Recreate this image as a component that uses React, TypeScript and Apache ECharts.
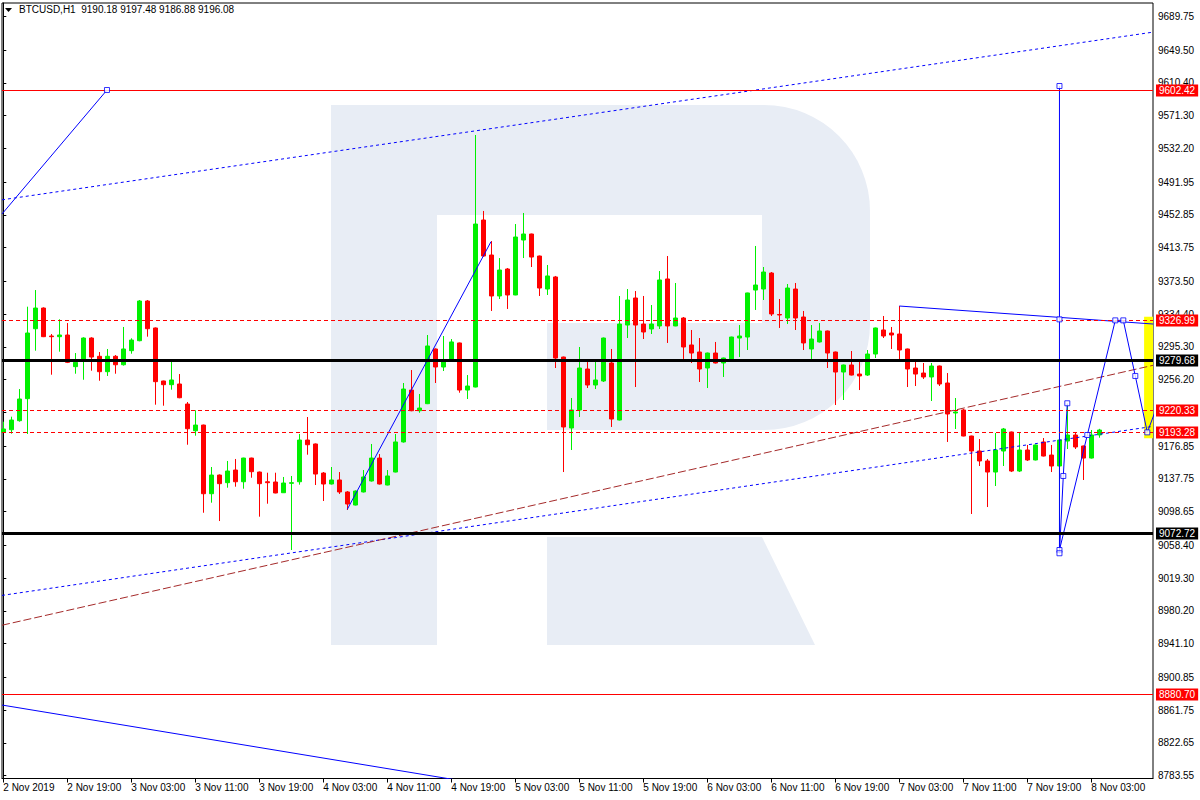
import React, { useEffect, useRef } from "react";
import * as echarts from "echarts";

const FONT = '"Liberation Sans", Arial, sans-serif';

// ---- Hourly bars, 2 Nov 2019 11:00 .. 8 Nov 2019 04:00 (bar index = hour) ----
const opens = [
  9193.3, 9196.4, 9207.2, 9233.5, 9317.0, 9341.7, 9308.3, 9307.5, 9309.5, 9271.7,
  9280.9, 9305.9, 9284.1, 9265.7, 9284.1, 9274.0, 9290.8, 9302.7, 9350.1, 9317.9,
  9254.6, 9250.2, 9251.0, 9227.1, 9195.2, 9202.0, 9120.0, 9142.3, 9133.2, 9148.3,
  9134.3, 9162.6, 9145.9, 9134.3, 9134.0, 9121.2, 9132.4, 9134.3, 9184.1, 9179.4,
  9144.7, 9131.6, 9136.4, 9122.1, 9106.5, 9122.1, 9135.2, 9162.6, 9130.4, 9145.9,
  9181.8, 9243.8, 9219.1, 9227.5, 9292.8, 9271.3, 9280.9, 9300.0, 9243.8, 9247.4,
  9446.8, 9405.0, 9356.1, 9388.3, 9357.3, 9422.9, 9430.1, 9403.8, 9364.4, 9378.8,
  9283.2, 9198.5, 9220.0, 9268.9, 9249.8, 9254.6, 9276.1, 9208.0, 9321.4, 9353.7,
  9322.6, 9316.7, 9320.3, 9376.4, 9320.3, 9329.8, 9297.6, 9289.2, 9270.1, 9288.0,
  9276.1, 9280.9, 9305.9, 9307.1, 9363.2, 9364.4, 9383.5, 9334.0, 9329.8, 9364.4,
  9331.0, 9292.8, 9301.2, 9314.3, 9289.2, 9265.3, 9273.7, 9262.9, 9261.7, 9286.8,
  9315.5, 9311.9, 9310.7, 9292.8, 9270.1, 9264.1, 9259.4, 9272.5, 9252.2, 9216.4,
  9220.0, 9188.9, 9171.0, 9159.1, 9145.9, 9171.0, 9193.7, 9147.1, 9172.2, 9160.3,
  9181.8, 9166.2, 9153.1, 9182.9, 9190.1, 9177.0, 9162.6, 9190.18,
];
const closes = [
  9197.3, 9208.0, 9233.1, 9311.9, 9341.7, 9307.5, 9307.5, 9309.5, 9276.9, 9276.9,
  9305.9, 9283.2, 9265.7, 9284.1, 9274.0, 9292.8, 9303.5, 9350.1, 9317.0, 9253.8,
  9250.2, 9255.8, 9234.6, 9197.6, 9202.0, 9120.0, 9142.3, 9132.0, 9147.1, 9134.3,
  9162.6, 9146.3, 9132.0, 9133.2, 9120.9, 9132.8, 9133.2, 9184.1, 9178.5, 9143.5,
  9131.6, 9136.4, 9122.1, 9107.7, 9123.2, 9140.0, 9162.6, 9131.6, 9141.2, 9181.8,
  9245.0, 9219.1, 9222.3, 9296.4, 9271.3, 9277.3, 9301.2, 9243.8, 9248.6, 9442.0,
  9403.8, 9356.1, 9387.1, 9357.3, 9426.5, 9430.1, 9402.6, 9365.6, 9380.0, 9282.0,
  9199.7, 9220.0, 9270.1, 9249.8, 9255.8, 9305.9, 9209.2, 9322.6, 9351.3, 9321.4,
  9313.1, 9322.6, 9375.2, 9320.3, 9329.8, 9295.2, 9288.0, 9268.9, 9288.0, 9276.1,
  9282.0, 9307.1, 9308.3, 9359.7, 9369.2, 9384.7, 9334.6, 9333.4, 9365.6, 9329.8,
  9300.0, 9304.7, 9314.3, 9288.0, 9265.3, 9273.7, 9261.7, 9260.6, 9286.8, 9317.9,
  9308.3, 9309.5, 9291.6, 9268.9, 9262.9, 9259.4, 9272.5, 9251.0, 9215.2, 9217.6,
  9188.9, 9171.0, 9159.1, 9145.9, 9172.2, 9197.3, 9147.1, 9172.2, 9160.3, 9178.2,
  9165.0, 9153.1, 9184.1, 9190.1, 9175.8, 9162.6, 9190.1, 9196.08,
];
const lows = [
  9192.5, 9191.7, 9206.0, 9191.3, 9290.8, 9307.0, 9262.1, 9289.6, 9276.0, 9263.3,
  9256.1, 9266.9, 9254.9, 9260.6, 9263.3, 9273.0, 9287.2, 9302.0, 9307.5, 9226.3,
  9225.1, 9244.2, 9234.0, 9178.5, 9189.3, 9097.3, 9109.3, 9087.4, 9127.2, 9128.4,
  9126.0, 9139.1, 9092.6, 9108.1, 9120.5, 9121.0, 9052.8, 9130.8, 9166.6, 9130.4,
  9111.3, 9131.0, 9119.7, 9100.6, 9106.0, 9121.5, 9134.5, 9131.0, 9130.0, 9145.5,
  9181.0, 9218.5, 9216.7, 9227.0, 9252.2, 9266.5, 9280.0, 9240.6, 9233.1, 9247.0,
  9403.0, 9338.2, 9352.5, 9340.6, 9357.0, 9401.4, 9390.7, 9356.1, 9357.3, 9270.1,
  9145.9, 9172.2, 9211.6, 9246.2, 9245.0, 9253.4, 9199.7, 9207.5, 9305.9, 9247.4,
  9304.7, 9310.7, 9316.7, 9300.0, 9320.0, 9280.9, 9276.1, 9253.4, 9246.2, 9275.5,
  9259.4, 9280.5, 9283.2, 9291.6, 9339.4, 9351.3, 9332.2, 9317.9, 9322.6, 9315.5,
  9291.6, 9280.9, 9300.5, 9270.1, 9225.9, 9231.9, 9261.2, 9243.8, 9260.6, 9282.0,
  9305.9, 9292.8, 9279.7, 9247.4, 9248.6, 9257.0, 9230.7, 9248.6, 9181.8, 9197.3,
  9188.5, 9095.8, 9153.1, 9104.1, 9129.2, 9153.1, 9145.9, 9145.9, 9159.1, 9159.8,
  9164.5, 9145.9, 9052.8, 9173.4, 9173.4, 9136.4, 9162.0, 9186.88,
];
const highs = [
  9206.0, 9212.0, 9245.0, 9343.3, 9363.2, 9342.5, 9310.7, 9328.3, 9323.8, 9288.0,
  9306.8, 9306.8, 9289.2, 9292.8, 9285.6, 9319.1, 9305.6, 9351.3, 9351.3, 9318.5,
  9255.0, 9277.6, 9262.9, 9229.5, 9219.6, 9202.5, 9151.9, 9143.0, 9159.1, 9161.5,
  9163.0, 9163.0, 9146.5, 9145.1, 9145.1, 9140.0, 9141.2, 9191.3, 9211.6, 9180.0,
  9145.9, 9151.9, 9145.9, 9123.2, 9124.0, 9148.3, 9179.4, 9167.4, 9148.3, 9191.3,
  9252.2, 9267.7, 9239.1, 9309.5, 9293.5, 9308.3, 9304.7, 9300.5, 9261.7, 9548.3,
  9457.6, 9421.7, 9401.4, 9389.5, 9442.0, 9455.2, 9430.5, 9404.3, 9393.1, 9380.0,
  9283.7, 9234.3, 9295.2, 9277.3, 9277.3, 9306.5, 9292.8, 9356.1, 9364.4, 9362.0,
  9356.1, 9345.3, 9385.9, 9403.8, 9371.6, 9331.0, 9315.5, 9305.9, 9288.5, 9301.2,
  9282.5, 9307.5, 9321.4, 9360.0, 9415.8, 9390.7, 9384.7, 9352.5, 9370.4, 9371.6,
  9338.2, 9321.4, 9323.8, 9314.8, 9289.7, 9274.2, 9290.4, 9277.3, 9291.6, 9318.4,
  9332.2, 9319.1, 9344.1, 9293.3, 9278.5, 9276.1, 9276.1, 9273.0, 9264.1, 9234.3,
  9221.2, 9189.3, 9185.3, 9161.5, 9192.5, 9198.5, 9194.2, 9192.5, 9178.2, 9178.7,
  9186.5, 9178.2, 9196.1, 9227.1, 9193.7, 9177.5, 9196.1, 9197.48,
];

// ---- Axis labels ----
const timeLabels = [
  "2 Nov 2019", "2 Nov 19:00", "3 Nov 03:00", "3 Nov 11:00", "3 Nov 19:00",
  "4 Nov 03:00", "4 Nov 11:00", "4 Nov 19:00", "5 Nov 03:00", "5 Nov 11:00",
  "5 Nov 19:00", "6 Nov 03:00", "6 Nov 11:00", "6 Nov 19:00", "7 Nov 03:00",
  "7 Nov 11:00", "7 Nov 19:00", "8 Nov 03:00",
];
const timeLabelBars = [0, 8, 16, 24, 32, 40, 48, 56, 64, 72, 80, 88, 96, 104, 112, 120, 128, 136];
const priceTicks = [
  9689.75, 9649.5, 9610.4, 9571.3, 9532.2, 9491.95, 9452.85, 9413.75, 9373.5, 9334.4,
  9295.3, 9256.2, 9217.1, 9176.85, 9137.75, 9098.65, 9058.4, 9019.3, 8980.2, 8941.1,
  8900.85, 8861.75, 8822.65, 8783.55,
];

// ---- Price levels ----
const redSolidLevels = [9602.42, 8880.7];
const redDashedLevels = [9326.99, 9220.33, 9193.28];
const blackLevels = [9279.68, 9072.72];

// ---- Drawn objects, as [bar index, price] ----
const channelTop = [[-0.1625, 9470.9], [143.7125, 9671.1]];
const channelBottom = [[-0.1625, 8998.6], [143.7125, 9200.4]];
const brownTrend = [[-0.1625, 8963.0], [143.7125, 9273.3]];
const lowerLeftLine = [[-0.1625, 8867.7], [57.1, 8777.5]];
const upperLeftLine = [[-0.1625, 9454.0], [12.96, 9602.0]];
const risingLine = [[43.0, 9101.4], [60.96, 9420.9]];
const upperRightLine = [[112, 9344.1], [143.75, 9322.6]];
const verticalLine = [[132.02, 9606.8], [132.02, 9048.9]];
const zigzagShort = [[132.02, 9048.9], [132.5, 9141.2], [133, 9228.0]];
const zigzagLong = [
  [132.02, 9052.8], [135.5, 9190.1], [139, 9326.99], [140, 9326.99],
  [141.5, 9260.6], [143, 9193.28], [143.96, 9217.6],
];
const anchorPoints = [
  [12.96, 9602.0], [132.02, 9606.8], [132.02, 9328.2], [132.02, 9052.8], [132.02, 9048.9],
  [132.5, 9141.2], [133, 9228.0], [135.5, 9190.1], [139, 9326.99], [140, 9326.99],
  [141.5, 9260.6], [143, 9193.28],
];
const highlightBox = [[142.6, 9331.4], [143.75, 9186.2]];

const header = "BTCUSD,H1\u00a0\u00a09190.18 9197.48 9186.88 9196.08";

const X_MIN = -0.1625;
const X_MAX = 143.7125;
const BLUE = "#0000ff";
const RED = "#ff0000";
const GREEN = "#00f000";
const LOGO = "#e8edf5";

type Snap = (v: number) => number;

const levels = [
  ...redSolidLevels.map((v) => ({ v, color: RED, type: "solid", width: 1 })),
  ...redDashedLevels.map((v) => ({ v, color: RED, type: [4, 3], width: 1 })),
  ...blackLevels.map((v) => ({ v, color: "#000000", type: "solid", width: 3 })),
];

function levelSeries(snap: Snap) {
  return levels.map((l, i) => {
    const y = snap(l.v);
    return {
      id: "level" + i,
      type: "line",
      data: [[X_MIN, y], [X_MAX, y]],
      showSymbol: false,
      silent: true,
      clip: false,
      z: 5,
      lineStyle: { color: l.color, type: l.type, width: l.width, opacity: 1 },
      endLabel: {
        show: true,
        distance: 3,
        formatter: () => l.v.toFixed(2),
        color: "#ffffff",
        backgroundColor: l.color,
        padding: [1, 3, 0, 3],
        fontSize: 10,
        lineHeight: 11,
        fontFamily: FONT,
      },
    };
  });
}

function lineSeries(data: number[][], color: string, type: any, width = 1) {
  return {
    type: "line",
    data,
    showSymbol: false,
    silent: true,
    z: 3,
    lineStyle: { color, type, width },
  };
}

export default function App() {
  const ref = useRef<HTMLDivElement>(null);

  useEffect(() => {
    if (!ref.current) return;
    const chart = echarts.init(ref.current, null, { renderer: "svg" });

    const candles = opens.map((o, i) => [i, o, closes[i], lows[i], highs[i]]);

    const option: any = {
      animation: false,
      backgroundColor: "#ffffff",
      grid: {
        left: 2,
        right: 47,
        top: 3,
        bottom: 21.5,
        show: true,
        borderColor: "#000000",
        borderWidth: 1,
      },
      xAxis: {
        type: "value",
        min: X_MIN,
        max: X_MAX,
        axisLine: { show: true, lineStyle: { color: "#000000", width: 1 } },
        axisTick: {
          show: true,
          customValues: timeLabelBars,
          length: 4,
          lineStyle: { color: "#000000" },
        },
        axisLabel: {
          customValues: timeLabelBars,
          formatter: (v: number) => timeLabels[timeLabelBars.indexOf(Math.round(v))] ?? "",
          align: "left",
          margin: 4,
          fontSize: 10,
          color: "#000000",
          fontFamily: FONT,
        },
        splitLine: { show: false },
      },
      yAxis: {
        type: "value",
        position: "right",
        min: 8780.0,
        max: 9705.9,
        axisLine: { show: true, lineStyle: { color: "#000000", width: 1 } },
        axisTick: {
          show: true,
          customValues: priceTicks,
          length: 3,
          lineStyle: { color: "#000000" },
        },
        axisLabel: {
          customValues: priceTicks,
          formatter: (v: number) => v.toFixed(2),
          margin: 5,
          fontSize: 10,
          color: "#000000",
          fontFamily: FONT,
        },
        splitLine: { show: false },
      },
      graphic: [
        // watermark "R"
        { type: "rect", z: 0, silent: true, shape: { x: 331, y: 105, width: 539, height: 325, r: [0, 106, 106, 0] }, style: { fill: LOGO } },
        { type: "rect", z: 0, silent: true, shape: { x: 331, y: 105, width: 106, height: 540 }, style: { fill: LOGO } },
        { type: "rect", z: 0, silent: true, shape: { x: 437, y: 215, width: 325, height: 108 }, style: { fill: "#ffffff" } },
        { type: "rect", z: 0, silent: true, shape: { x: 437, y: 323, width: 110, height: 107 }, style: { fill: "#ffffff" } },
        { type: "polygon", z: 0, silent: true, shape: { points: [[547, 537], [762, 537], [815, 645], [547, 645]] }, style: { fill: LOGO } },
        // header
        { type: "polygon", z: 10, silent: true, shape: { points: [[5, 8], [12, 8], [8.5, 12]] }, style: { fill: "#000000" } },
        {
          type: "text",
          z: 10,
          silent: true,
          left: 19,
          top: 4,
          style: { text: header, fill: "#000000", font: `10px ${FONT}` },
        },
      ],
      series: [
        {
          id: "candles",
          type: "candlestick",
          data: candles,
          barWidth: 4,
          z: 2,
          itemStyle: {
            color: GREEN,
            color0: RED,
            borderColor: GREEN,
            borderColor0: RED,
            borderWidth: 1,
          },
          markArea: {
            silent: true,
            itemStyle: { color: "#ffff00", opacity: 1 },
            label: { show: false },
            data: [[{ coord: highlightBox[0] }, { coord: highlightBox[1] }]],
          },
        },
        lineSeries(channelTop, BLUE, [3, 3]),
        lineSeries(channelBottom, BLUE, [3, 3]),
        lineSeries(brownTrend, "#a52a2a", [8, 3]),
        lineSeries(lowerLeftLine, BLUE, "solid"),
        lineSeries(upperLeftLine, BLUE, "solid"),
        lineSeries(risingLine, BLUE, "solid"),
        lineSeries(upperRightLine, BLUE, "solid"),
        lineSeries(verticalLine, BLUE, "solid"),
        lineSeries(zigzagShort, BLUE, "solid"),
        lineSeries(zigzagLong, BLUE, "solid"),
        {
          type: "scatter",
          data: anchorPoints,
          symbol: "rect",
          symbolSize: 5,
          silent: true,
          z: 6,
          itemStyle: { color: "#ffffff", borderColor: BLUE, borderWidth: 1 },
        },
        ...levelSeries((v) => v),
      ],
    };

    chart.setOption(option);

    // snap the horizontal levels onto the nearest pixel row so they render crisp
    const snap: Snap = (v) => {
      const py = chart.convertToPixel({ yAxisIndex: 0 }, v) as unknown as number;
      const s = Math.floor(py + 0.5) + 0.5;
      return chart.convertFromPixel({ yAxisIndex: 0 }, s) as unknown as number;
    };
    chart.setOption({ series: levelSeries(snap) });

    return () => chart.dispose();
  }, []);

  return (
    <div
      ref={ref}
      style={{ position: "fixed", left: 0, top: 0, width: 1200, height: 800, background: "#ffffff" }}
    />
  );
}
